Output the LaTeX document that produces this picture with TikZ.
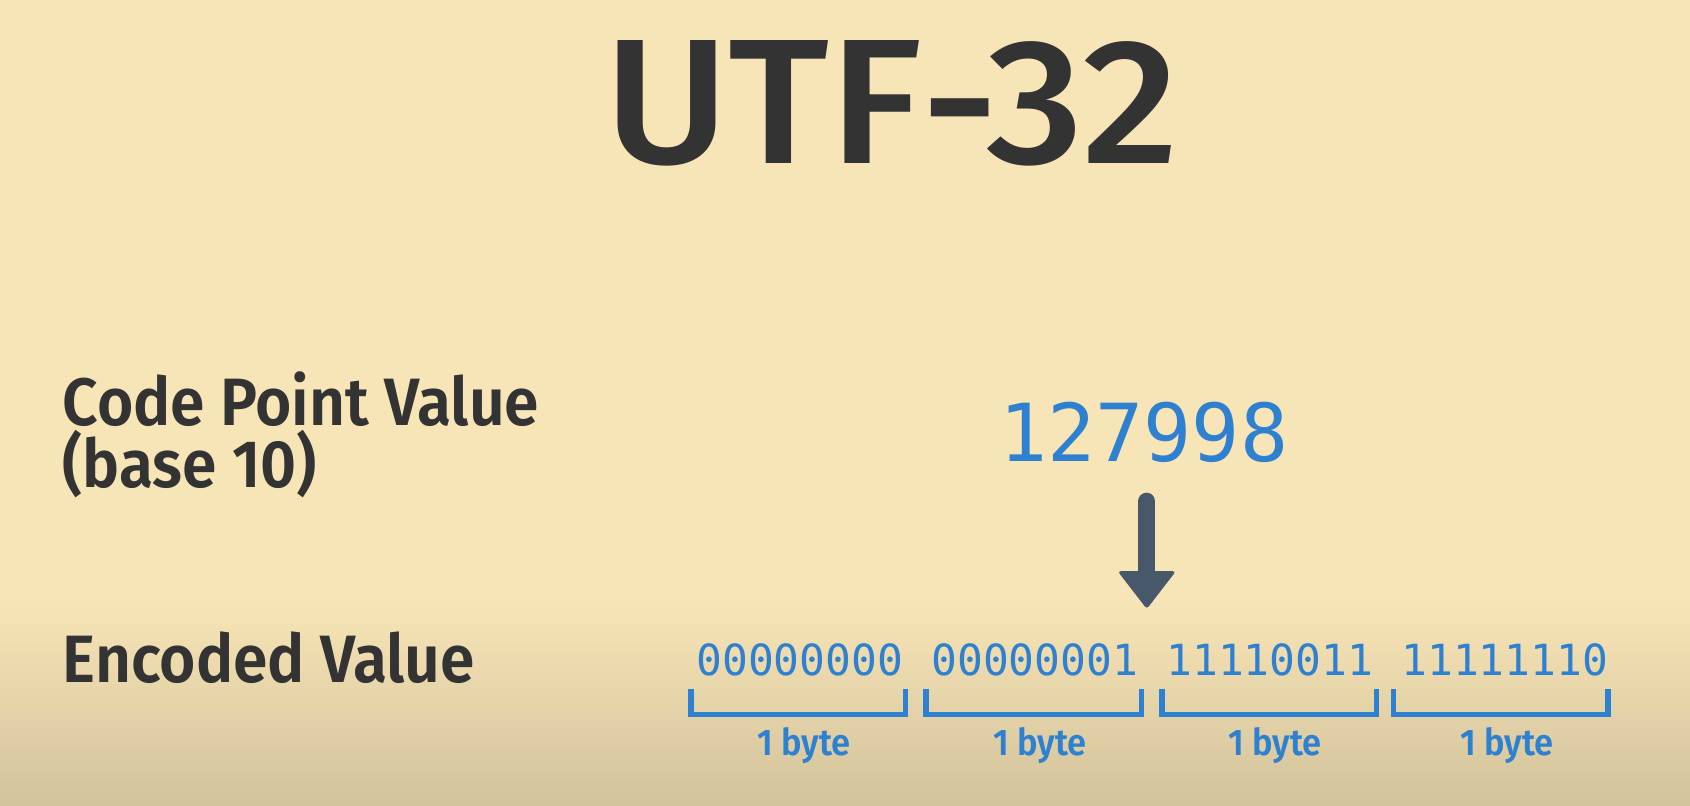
\documentclass[tikz,border=0pt]{standalone}
\usepackage{fontspec}
\setmainfont{Fira Sans}
\newfontfamily\titlef{Fira Sans Medium}[FakeStretch=1.07]
\newfontfamily\lblf{Fira Sans SemiBold}[FakeStretch=0.93]
\newfontfamily\monof{DejaVu Sans Mono}
\definecolor{bgtop}{RGB}{248,229,183}
\definecolor{bgbot}{RGB}{211,195,155}
\definecolor{txt}{RGB}{51,51,51}
\definecolor{blu}{RGB}{46,128,208}
\definecolor{arr}{RGB}{71,88,106}
\tikzset{
  title/.style={inner sep=0pt, text=txt, font=\titlef\fontsize{178}{178}\selectfont},
  lbl/.style={inner sep=0pt, text=txt, font=\lblf\fontsize{67}{67}\selectfont, anchor=base west},
  bits/.style={inner sep=0pt, text=blu, font=\monof\fontsize{42.9}{43}\selectfont, anchor=base west},
  bignum/.style={inner sep=0pt, text=blu, font=\monof\fontsize{80}{80}\selectfont, anchor=base west},
  bytelbl/.style={inner sep=0pt, text=blu, font=\lblf\fontsize{37}{37}\selectfont, anchor=base},
  brk/.style={draw=blu, line width=5.4pt, line join=miter},
}
\begin{document}
\begin{tikzpicture}[x=1.0778pt,y=-1.0778pt]
\useasboundingbox (0,0) rectangle (1568,747);
\fill[bgtop] (0,0) rectangle (1568,747);
\shade[top color=bgtop, bottom color=bgbot] (0,555) rectangle (1568,747);

\node[title, anchor=base] (t) at (827,152) {UTF-32};
\node[lbl] (cp1) at (58,395) {Code Point Value};
\node[lbl] (cp2) at (58,452) {(base 10)};
\node[lbl] (ev) at (58,633) {Encoded Value};

\node[bignum] (num) at (927,428) {127998};

\coordinate (as) at (1064,465);
\coordinate (ae) at (1064,534);
\coordinate (at) at (1064,565);
\draw[arr, line width=17pt, line cap=round] (as) -- (ae);
\fill[arr, rounded corners=3pt] (1037,530) -- (1091,530) -- (at) -- cycle;

\node[bits] (b1) at (646,627) {00000000};
\node[bits] (b2) at (864,627) {00000001};
\node[bits] (b3) at (1082,627) {11110011};
\node[bits] (b4) at (1300,627) {11111110};

\draw[brk] (641,639) -- (641,663) -- (840,663) -- (840,639);
\draw[brk] (859,639) -- (859,663) -- (1059,663) -- (1059,639);
\draw[brk] (1078,639) -- (1078,663) -- (1277,663) -- (1277,639);
\draw[brk] (1293,639) -- (1293,663) -- (1492,663) -- (1492,639);

\node[bytelbl] (y1) at (746,701) {1 byte};
\node[bytelbl] (y2) at (965,701) {1 byte};
\node[bytelbl] (y3) at (1183,701) {1 byte};
\node[bytelbl] (y4) at (1398,701) {1 byte};
\end{tikzpicture}
\end{document}
